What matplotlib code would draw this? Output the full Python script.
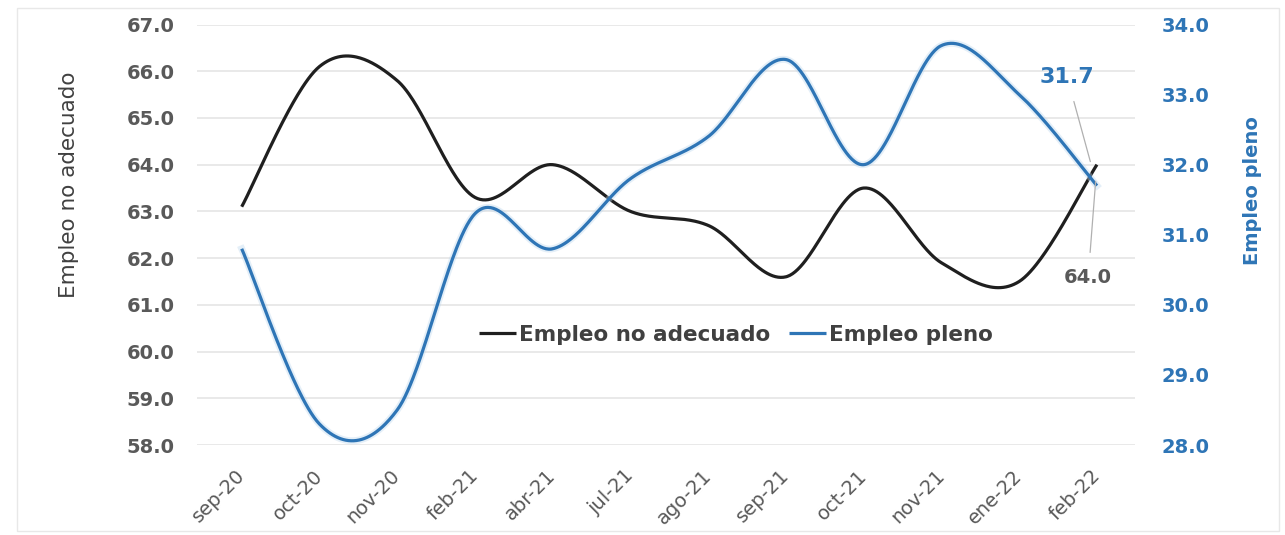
import numpy as np
import matplotlib
matplotlib.use("Agg")
import matplotlib.pyplot as plt
from matplotlib.patches import Rectangle

# ---- data ----
categories = ["sep-20", "oct-20", "nov-20", "feb-21", "abr-21", "jul-21",
              "ago-21", "sep-21", "oct-21", "nov-21", "ene-22", "feb-22"]
empleo_no_adecuado = [63.1, 66.1, 65.8, 63.3, 64.0, 63.0, 62.7, 61.6, 63.5, 61.9, 61.5, 64.0]
empleo_pleno = [30.8, 28.3, 28.5, 31.3, 30.8, 31.8, 32.4, 33.5, 32.0, 33.7, 33.0, 31.7]
left_ticks = [58.0, 59.0, 60.0, 61.0, 62.0, 63.0, 64.0, 65.0, 66.0, 67.0]
right_ticks = [28.0, 29.0, 30.0, 31.0, 32.0, 33.0, 34.0]

GRAY = "#595959"
BLUE = "#2E75B6"
BLACK = "#1F1F1F"


def excel_smooth(y, n=60):
    """Bezier smoothing similar to Excel's 'smoothed line'."""
    y = np.asarray(y, float)
    x = np.arange(len(y), dtype=float)
    xs, ys = [], []
    t = np.linspace(0, 1, n)
    for i in range(len(y) - 1):
        i0 = max(i - 1, 0)
        i3 = min(i + 2, len(y) - 1)
        p0 = np.array([x[i], y[i]])
        p3 = np.array([x[i + 1], y[i + 1]])
        c1 = p0 + (np.array([x[i + 1], y[i + 1]]) - np.array([x[i0], y[i0]])) / 6
        c2 = p3 - (np.array([x[i3], y[i3]]) - np.array([x[i], y[i]])) / 6
        b = ((1 - t) ** 3)[:, None] * p0 + (3 * (1 - t) ** 2 * t)[:, None] * c1 \
            + (3 * (1 - t) * t ** 2)[:, None] * c2 + (t ** 3)[:, None] * p3
        xs.append(b[:, 0] if i == 0 else b[1:, 0])
        ys.append(b[:, 1] if i == 0 else b[1:, 1])
    return np.concatenate(xs), np.concatenate(ys)


fig = plt.figure(figsize=(12.85, 5.35), dpi=100)
fig.patches.append(Rectangle((0.013, 0.008), 0.982, 0.977, transform=fig.transFigure,
                             fill=False, ec="#E8E8E8", lw=1))

ax = fig.add_axes([0.1533, 0.1682, 0.7300, 0.7860])
ax2 = ax.twinx()

x = np.arange(len(categories))
bx, by = excel_smooth(empleo_no_adecuado)
px, py = excel_smooth(empleo_pleno)

l1, = ax.plot(bx, by, color=BLACK, lw=2.3, solid_capstyle="butt", zorder=3,
              label="Empleo no adecuado")
ax2.plot(px, py, color="#BDD7EE", lw=5.0, alpha=0.4, zorder=2)
l2, = ax2.plot(px, py, color=BLUE, lw=2.3, solid_capstyle="butt", zorder=3,
               label="Empleo pleno")

ax.set_xlim(-0.575, 11.49)
ax.set_ylim(58, 67)
ax2.set_ylim(28, 34)

ax.set_yticks(left_ticks)
ax.set_yticklabels([f"{v:.1f}" for v in left_ticks])
ax2.set_yticks(right_ticks)
ax2.set_yticklabels([f"{v:.1f}" for v in right_ticks])
ax.set_xticks(x)
ax.set_xticklabels(categories, rotation=45, ha="right", va="center",
                   rotation_mode="anchor")

for a in (ax, ax2):
    for s in a.spines.values():
        s.set_visible(False)

ax.grid(axis="y", color="#E3E3E3", lw=1.1)
ax.set_axisbelow(True)

ax.tick_params(axis="y", length=0, pad=16, labelsize=14, labelcolor=GRAY)
for lab in ax.get_yticklabels():
    lab.set_fontweight("bold")
ax.tick_params(axis="x", length=0, pad=20, labelsize=14, labelcolor=GRAY)
ax2.tick_params(axis="y", length=0, pad=19, labelsize=14, labelcolor=BLUE)
for lab in ax2.get_yticklabels():
    lab.set_fontweight("bold")

ax.set_ylabel("Empleo no adecuado", fontsize=15.5, color="#404040")
ax.yaxis.set_label_coords(-0.126, 0.618)
ax2.set_ylabel("Empleo pleno", fontsize=14, color=BLUE, fontweight="bold")
ax2.yaxis.set_label_coords(1.115, 0.606)

# data labels of last point
ax2.annotate(f"{empleo_pleno[-1]:.1f}", xy=(x[-1], empleo_pleno[-1]),
             xytext=(-21.5, 78.5), textcoords="offset points",
             ha="center", va="center", fontsize=16, fontweight="bold", color=BLUE,
             arrowprops=dict(arrowstyle="-", color="#B0B0B0", lw=0.9,
                             shrinkA=9, shrinkB=18), zorder=5)
ax2.annotate(f"{empleo_no_adecuado[-1]:.1f}", xy=(x[-1], empleo_no_adecuado[-1]),
             xycoords=ax.transData,
             xytext=(-6.3, -81), textcoords="offset points",
             ha="center", va="center", fontsize=14, fontweight="bold", color=GRAY,
             arrowprops=dict(arrowstyle="-", color="#B0B0B0", lw=0.9,
                             shrinkA=9, shrinkB=12), zorder=5)

leg = ax2.legend(handles=[l1, l2], loc="center", ncol=2,
                 bbox_to_anchor=(0.5728, 0.3738), bbox_transform=fig.transFigure,
                 frameon=False, fontsize=15.5, handlelength=1.7, handletextpad=0.15,
                 columnspacing=0.9)
for t in leg.get_texts():
    t.set_color("#404040")
    t.set_fontweight("bold")

fig.savefig("out.png", dpi=100, facecolor="white")
